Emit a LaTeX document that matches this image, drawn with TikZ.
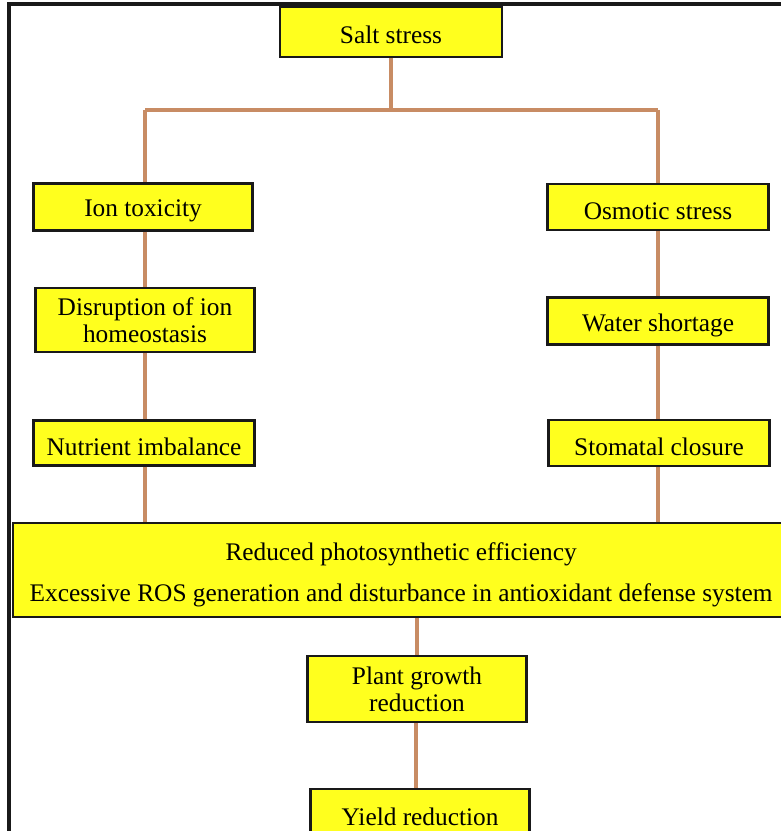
\documentclass[tikz,border=0pt]{standalone}
\usepackage{fontspec}
\setmainfont{Liberation Serif}
\definecolor{boxyellow}{RGB}{255,255,30}
\definecolor{linktan}{RGB}{200,140,100}
\definecolor{frameblack}{RGB}{25,25,25}
\newcommand\dropby[2]{\raisebox{-#1}[\height][\depth]{#2}}
\begin{document}
\begin{tikzpicture}[x=0.75pt,y=-0.75pt,
  box/.style={draw=frameblack,line width=1.7pt,fill=boxyellow,rectangle,
    inner sep=0pt,align=center,font=\fontsize{19}{20.5}\selectfont},
  link/.style={draw=linktan,line width=2.6pt}]
\useasboundingbox (0,0) rectangle (781,831);
\clip (0,0) rectangle (781,831);
\fill[white] (0,0) rectangle (781,831);
% frame
\draw[frameblack,line width=2.4pt] (9,840) -- (9,4) -- (790,4);
% nodes
\node[box,minimum width=222*0.75pt,minimum height=50*0.75pt] (salt) at (391,32) {\dropby{2.5pt}{Salt stress}};
\node[box,minimum width=219*0.75pt,minimum height=47*0.75pt] (ion) at (143,207) {\dropby{3pt}{Ion toxicity}};
\node[box,minimum width=219*0.75pt,minimum height=64*0.75pt] (disr) at (145,320) {Disruption of ion\\homeostasis};
\node[box,minimum width=221*0.75pt,minimum height=45*0.75pt] (nutr) at (144,443) {\dropby{3pt}{Nutrient imbalance}};
\node[box,minimum width=221*0.75pt,minimum height=46*0.75pt] (osm) at (658,207) {\dropby{3pt}{Osmotic stress}};
\node[box,minimum width=221*0.75pt,minimum height=47*0.75pt] (water) at (658,321) {\dropby{3pt}{Water shortage}};
\node[box,minimum width=221*0.75pt,minimum height=46*0.75pt] (stom) at (659,443) {\dropby{3pt}{Stomatal closure}};
\node[box,minimum width=776*0.75pt,minimum height=94*0.75pt,anchor=north west] (big) at (12,522)
  {\dropby{4pt}{\begin{tabular}{@{}c@{}}Reduced photosynthetic efficiency\\[10pt]Excessive ROS generation and disturbance in antioxidant defense system\end{tabular}}};
\node[box,minimum width=219*0.75pt,minimum height=66*0.75pt] (plant) at (417,689) {Plant growth\\reduction};
\node[box,minimum width=219*0.75pt,minimum height=56*0.75pt,anchor=north] (yield) at (420,788) {Yield reduction};
% connectors
\coordinate (split) at (391,110);
\coordinate (splitL) at (145,110);
\coordinate (splitR) at (658,110);
\draw[link] (salt) -- (split);
\draw[link] (splitL) -- (splitR);
\draw[link] (splitL) -- (splitL |- ion.north);
\draw[link] (splitR) -- (osm);
\draw[link] (ion.south -| splitL) -- (disr.north -| splitL);
\draw[link] (disr.south -| splitL) -- (nutr.north -| splitL);
\draw[link] (nutr.south -| splitL) -- (big.north -| splitL);
\draw[link] (osm) -- (water);
\draw[link] (water) -- (stom.north -| water);
\draw[link] (stom.south -| water) -- (big.north -| water);
\draw[link] (big.south -| plant) -- (plant);
\draw[link] (plant.south -| 416,0) -- (yield.north -| 416,0);
\end{tikzpicture}
\end{document}
